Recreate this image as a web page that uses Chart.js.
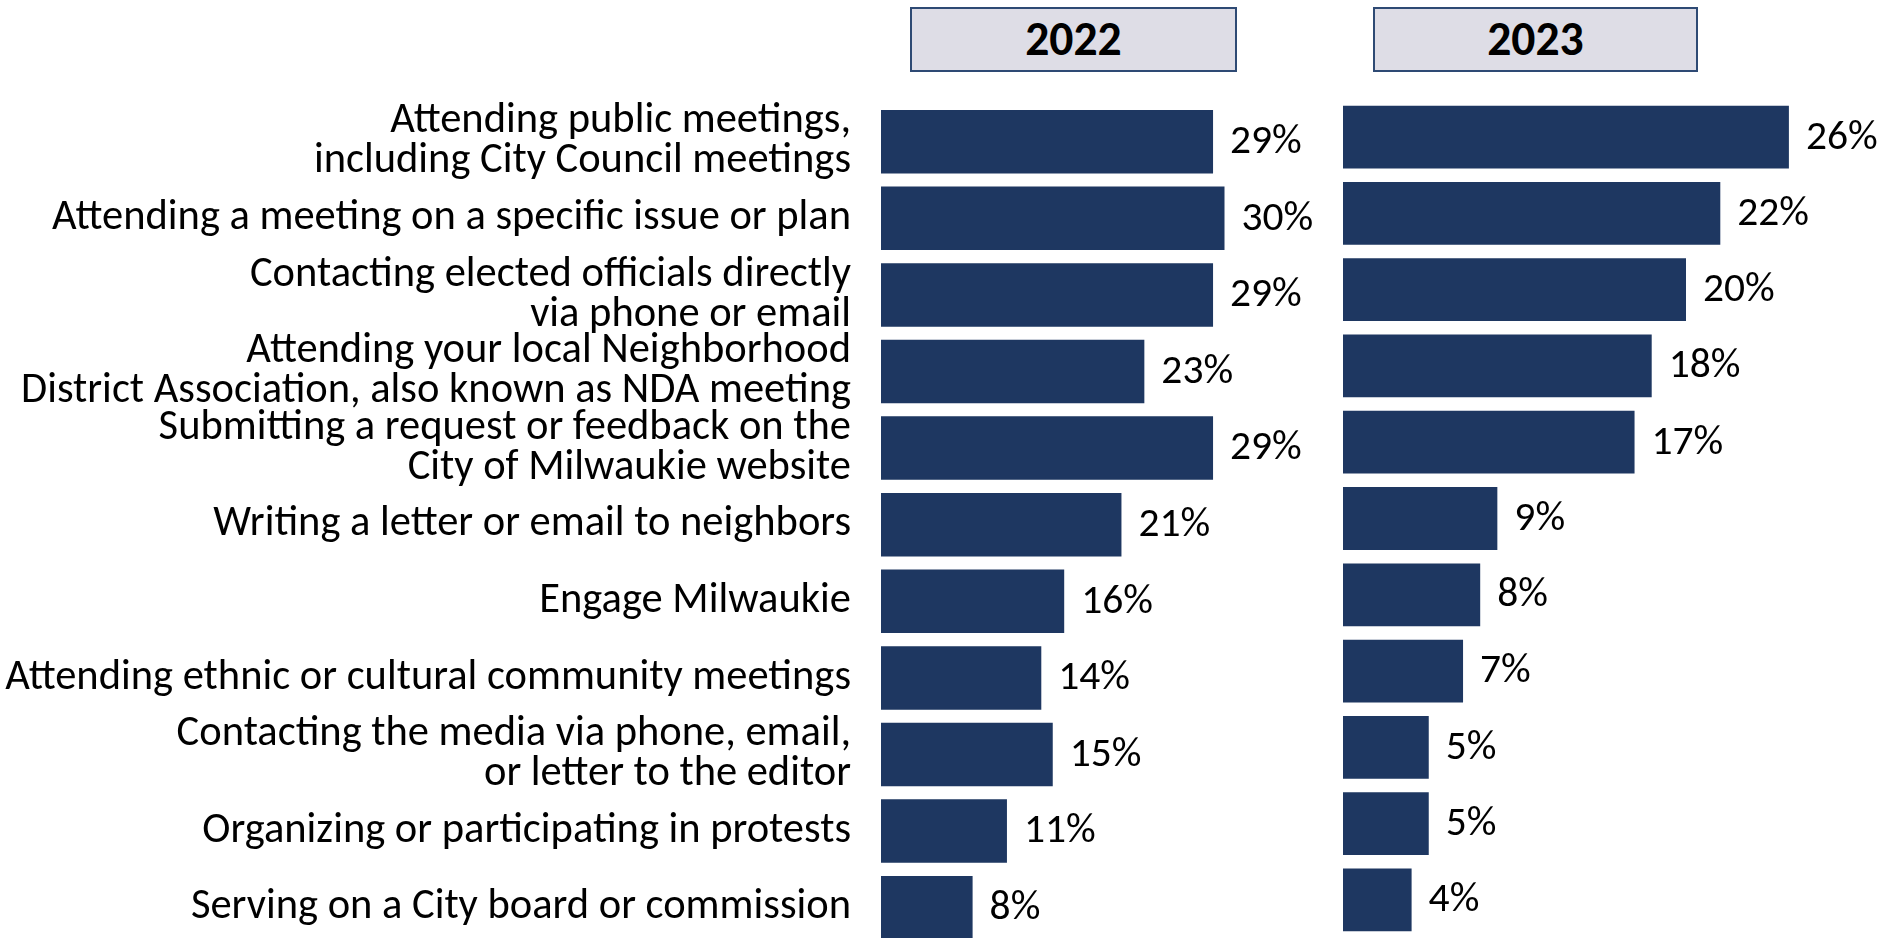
<!DOCTYPE html>
<html>
<head>
<meta charset="utf-8">
<title>Civic engagement 2022 vs 2023</title>
<script src="https://cdn.jsdelivr.net/npm/chart.js@4.4.0/dist/chart.umd.min.js"></script>
<style>
    html, body { margin: 0; padding: 0; background: #fff; overflow: hidden; width: 1885px; height: 938px; }
    canvas { position: absolute; top: 0; }
    .year {
        position: absolute; top: 7px; height: 65px; box-sizing: border-box;
        border: 2px solid #2e4a74; background: #dedde6; color: #000;
        text-align: center; line-height: 61px; font-weight: bold;
    }
</style>
</head>
<body>
<div class="year" style="left:910px;width:327px">2022</div>
<div class="year" style="left:1373px;width:325px">2023</div>
<canvas id="chart2022" width="1343" height="960" style="left:0"></canvas>
<canvas id="chart2023" width="542" height="960" style="left:1343px"></canvas>
<script>
const categories = [
    ['Attending public meetings,', 'including City Council meetings'],
    'Attending a meeting on a specific issue or plan',
    ['Contacting elected officials directly', 'via phone or email'],
    ['Attending your local Neighborhood', 'District Association, also known as NDA meeting'],
    ['Submitting a request or feedback on the', 'City of Milwaukie website'],
    'Writing a letter or email to neighbors',
    'Engage Milwaukie',
    'Attending ethnic or cultural community meetings',
    ['Contacting the media via phone, email,', 'or letter to the editor'],
    'Organizing or participating in protests',
    'Serving on a City board or commission'
];
const values2022 = [29, 30, 29, 23, 29, 21, 16, 14, 15, 11, 8];
const values2023 = [26, 22, 20, 18, 17, 9, 8, 7, 5, 5, 4];

const BAR = '#1e3761';
const FONT = 'Carlito, Lato, sans-serif';

// the original uses Calibri; scale whatever we get so the widest label fits the same width
const measure = document.createElement('canvas').getContext('2d');
measure.font = '42px ' + FONT;
const k = 846 / measure.measureText('Attending ethnic or cultural community meetings').width;

document.querySelectorAll('.year').forEach(el => {
    el.style.font = 'bold ' + (47 * k).toFixed(1) + 'px ' + FONT;
    el.style.lineHeight = '61px';
});

const valueLabels = {
    id: 'valueLabels',
    afterDatasetsDraw(chart) {
        const ctx = chart.ctx;
        const data = chart.data.datasets[0].data;
        ctx.save();
        ctx.font = (41 * k).toFixed(1) + 'px ' + FONT;
        ctx.fillStyle = '#000';
        ctx.textBaseline = 'middle';
        chart.getDatasetMeta(0).data.forEach((bar, i) => {
            ctx.fillText(data[i] + '%', bar.x + 17, bar.y + 1);
        });
        ctx.restore();
    }
};

function makeChart(id, values, opts) {
    return new Chart(document.getElementById(id), {
        type: 'bar',
        data: {
            labels: categories,
            datasets: [{
                data: values,
                backgroundColor: BAR,
                barPercentage: opts.barPct,
                categoryPercentage: 1
            }]
        },
        options: {
            indexAxis: 'y',
            responsive: false,
            animation: false,
            layout: { padding: opts.padding },
            plugins: {
                legend: { display: false },
                tooltip: { enabled: false }
            },
            scales: {
                x: { display: false, min: 0, max: opts.max },
                y: opts.yAxis
            }
        },
        plugins: [valueLabels]
    });
}

makeChart('chart2022', values2022, {
    barPct: 0.829,
    max: 40,
    padding: { top: 103.4, bottom: 14, left: 0, right: 4 },
    yAxis: {
        grid: { display: false, drawTicks: false },
        border: { display: false },
        ticks: {
            color: '#000',
            padding: 30,
            autoSkip: false,
            font: { family: FONT, size: 42 * k, lineHeight: '40px' }
        },
        afterFit(scale) {
            // fixed label column; labels may overhang the plot area top/bottom
            scale.width = 881;
            scale.paddingTop = 0;
            scale.paddingBottom = 0;
        }
    }
});

makeChart('chart2023', values2023, {
    barPct: 0.823,
    max: 30,
    padding: { top: 99, bottom: 22, left: 0, right: 27.5 },
    yAxis: { display: false }
});
</script>
</body>
</html>
